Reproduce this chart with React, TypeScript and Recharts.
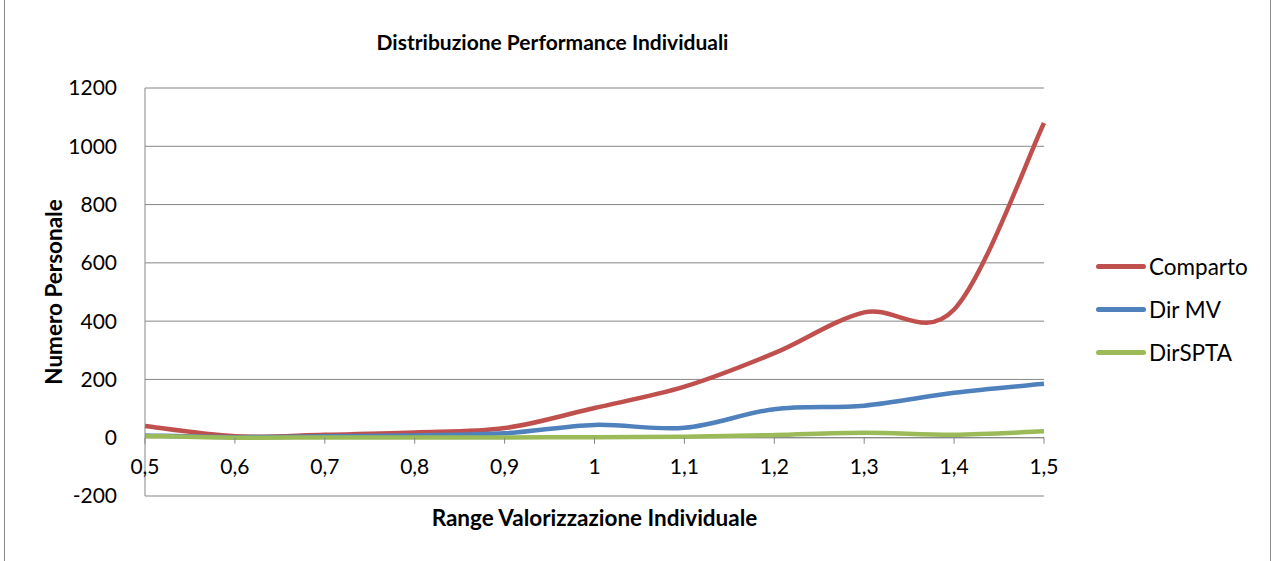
import { LineChart, Line, XAxis, YAxis, CartesianGrid, ReferenceLine } from 'recharts';

const xValues = [0.5, 0.6, 0.7, 0.8, 0.9, 1.0, 1.1, 1.2, 1.3, 1.4, 1.5];
const comparto = [40, 5, 10, 18, 33, 102, 175, 290, 430, 440, 1080];
const dirMV = [8, 2, 5, 8, 15, 44, 34, 98, 110, 154, 185];
const dirSPTA = [6, 0, 1, 1, 1, 2, 3, 9, 17, 10, 22];
const xTicks = [0.5, 0.6, 0.7, 0.8, 0.9, 1.0, 1.1, 1.2, 1.3, 1.4, 1.5];
const yTicks = [-200, 0, 200, 400, 600, 800, 1000, 1200];

const series = [
    { key: 'Comparto', color: '#C0504D' },
    { key: 'Dir MV', color: '#4F81BD' },
    { key: 'DirSPTA', color: '#9BBB59' },
];

const chartData = xValues.map((x, i) => ({
    x,
    Comparto: comparto[i],
    'Dir MV': dirMV[i],
    DirSPTA: dirSPTA[i],
}));

// Excel-like smoothing (Catmull-Rom / cardinal spline, tension 0)
function excelSmooth(context: any) {
    let pts: [number, number][] = [];
    return {
        areaStart() {},
        areaEnd() {},
        lineStart() { pts = []; },
        point(x: number, y: number) { pts.push([+x, +y]); },
        lineEnd() {
            if (!pts.length) return;
            context.moveTo(pts[0][0], pts[0][1]);
            for (let i = 0; i < pts.length - 1; i++) {
                const p0 = pts[Math.max(i - 1, 0)];
                const p1 = pts[i];
                const p2 = pts[i + 1];
                const p3 = pts[Math.min(i + 2, pts.length - 1)];
                context.bezierCurveTo(
                    p1[0] + (p2[0] - p0[0]) / 6, p1[1] + (p2[1] - p0[1]) / 6,
                    p2[0] - (p3[0] - p1[0]) / 6, p2[1] - (p3[1] - p1[1]) / 6,
                    p2[0], p2[1]
                );
            }
        },
    };
}

const FONT = 'Lato, "Open Sans", sans-serif';
const PLOT_TOP = 88;
const PLOT_BOTTOM = 496;
const ZERO_Y = PLOT_TOP + (PLOT_BOTTOM - PLOT_TOP) * (1200 / 1400);

function XTick(props: any) {
    const { x, payload } = props;
    return (
        <g>
            <line x1={x} x2={x} y1={ZERO_Y} y2={ZERO_Y + 6} stroke="#868686" />
            <text x={x} y={ZERO_Y + 36} textAnchor="middle" fontSize={21} fill="#000" fontFamily={FONT}>
                {String(payload.value).replace('.', ',')}
            </text>
        </g>
    );
}

export default function App() {
    return (
        <div style={{ position: 'absolute', left: 0, top: 0, width: 1272, height: 561, background: '#fff', overflow: 'hidden' }}>
            <div style={{ position: 'absolute', left: 4, top: -2, width: 1265, height: 570, border: '1px solid #8a8a8a' }} />
            <div style={{ position: 'absolute', left: 0, top: 29, width: 1105, textAlign: 'center', fontFamily: FONT, fontWeight: 700, fontSize: 21 }}>
                Distribuzione Performance Individuali
            </div>
            <LineChart width={1272} height={561} data={chartData} margin={{ top: PLOT_TOP, right: 228, bottom: 0, left: 0 }}>
                <CartesianGrid vertical={false} stroke="#868686" />
                <XAxis
                    dataKey="x"
                    type="number"
                    domain={[0.5, 1.5]}
                    ticks={xTicks}
                    tick={<XTick />}
                    tickLine={false}
                    axisLine={false}
                    height={561 - PLOT_BOTTOM}
                    label={{ value: 'Range Valorizzazione Individuale', position: 'insideTop', dy: 9, fontFamily: FONT, fontWeight: 700, fontSize: 22.5, fill: '#000' }}
                />
                <YAxis
                    domain={[-200, 1200]}
                    ticks={yTicks}
                    width={145}
                    tickLine={false}
                    axisLine={{ stroke: '#868686' }}
                    tickMargin={22}
                    tick={{ fontFamily: FONT, fontSize: 21, fill: '#000' }}
                    label={{ value: 'Numero Personale', angle: -90, position: 'insideLeft', dx: 49, fontFamily: FONT, fontWeight: 700, fontSize: 22.5, fill: '#000', style: { textAnchor: 'middle' } }}
                />
                <ReferenceLine y={0} stroke="#868686" />
                {series.map(s => (
                    <Line
                        key={s.key}
                        dataKey={s.key}
                        type={excelSmooth as any}
                        stroke={s.color}
                        strokeWidth={4.5}
                        dot={false}
                        activeDot={false}
                        isAnimationActive={false}
                    />
                ))}
            </LineChart>
            <div style={{ position: 'absolute', left: 1096, top: 245 }}>
                {series.map(s => (
                    <div key={s.key} style={{ display: 'flex', alignItems: 'center', height: 43 }}>
                        <div style={{ width: 50, height: 5, background: s.color, borderRadius: 3 }} />
                        <span style={{ marginLeft: 3, fontFamily: FONT, fontSize: 22.5 }}>{s.key}</span>
                    </div>
                ))}
            </div>
        </div>
    );
}
